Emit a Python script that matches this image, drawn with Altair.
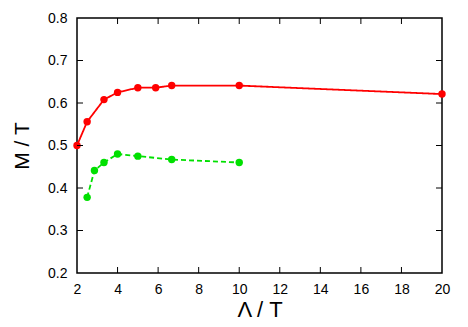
import altair as alt
import pandas as pd

# data
red_x = [2.0, 2.5, 3.33, 4.0, 5.0, 5.88, 6.67, 10.0, 20.0]
red_y = [0.500, 0.556, 0.608, 0.625, 0.636, 0.636, 0.641, 0.641, 0.621]
green_x = [2.5, 2.86, 3.33, 4.0, 5.0, 6.67, 10.0]
green_y = [0.378, 0.441, 0.460, 0.480, 0.475, 0.467, 0.460]
x_ticks = [2, 4, 6, 8, 10, 12, 14, 16, 18, 20]
y_ticks = [0.2, 0.3, 0.4, 0.5, 0.6, 0.7, 0.8]

W, H = 365, 255
FONT = "Liberation Sans"

df = pd.concat([
    pd.DataFrame({"x": red_x, "y": red_y, "s": "red"}),
    pd.DataFrame({"x": green_x, "y": green_y, "s": "green"}),
])
xt = pd.DataFrame({"v": x_ticks[1:-1]})
yt = pd.DataFrame({"v": y_ticks[1:-1]})

xs = alt.Scale(domain=[2, 20], nice=False, zero=False)
ys = alt.Scale(domain=[0.2, 0.8], nice=False, zero=False)
cs = alt.Scale(domain=["red", "green"], range=["#ff0000", "#00e000"])
ds = alt.Scale(domain=["red", "green"], range=[[1, 0], [5, 3]])

xaxis = alt.Axis(values=x_ticks, tickSize=0, domain=False, grid=False,
                 labelFontSize=14, labelFont=FONT, labelColor="black",
                 labelFlush=False, labelOverlap=False,
                 labelPadding=9, title="Λ / T", titleFont=FONT,
                 titleFontSize=22, titleFontWeight="normal",
                 titleColor="black", titlePadding=3)
yaxis = alt.Axis(values=y_ticks, format=".1f", tickSize=0, domain=False,
                 grid=False, labelFontSize=14, labelFont=FONT,
                 labelFlush=False, labelOverlap=False,
                 labelColor="black", labelPadding=10, title="M / T",
                 titleFont=FONT, titleFontSize=21, titleFontWeight="normal",
                 titleColor="black", titlePadding=15)

base = alt.Chart(df).encode(
    x=alt.X("x:Q", scale=xs, axis=xaxis),
    y=alt.Y("y:Q", scale=ys, axis=yaxis),
    color=alt.Color("s:N", scale=cs, legend=None),
)
lines = base.mark_line(strokeWidth=1.8).encode(
    strokeDash=alt.StrokeDash("s:N", scale=ds, legend=None))
points = base.mark_circle(size=55, opacity=1)

tick_style = dict(color="black", strokeWidth=1)
xb = alt.Chart(xt).mark_rule(**tick_style).encode(
    x=alt.X("v:Q", scale=xs), y=alt.value(H), y2=alt.value(H - 6))
xtop = alt.Chart(xt).mark_rule(**tick_style).encode(
    x=alt.X("v:Q", scale=xs), y=alt.value(0), y2=alt.value(6))
yl = alt.Chart(yt).mark_rule(**tick_style).encode(
    y=alt.Y("v:Q", scale=ys), x=alt.value(0), x2=alt.value(6))
yr = alt.Chart(yt).mark_rule(**tick_style).encode(
    y=alt.Y("v:Q", scale=ys), x=alt.value(W), x2=alt.value(W - 6))

chart = alt.layer(lines, points, xb, xtop, yl, yr).properties(
    width=W, height=H,
    autosize=alt.AutoSizeParams(type="none"),
    padding={"left": 69, "top": 10, "right": 18, "bottom": 50},
).configure(background="white").configure_view(stroke="black", strokeWidth=1.5)

chart.save("out.html", embed_options={"renderer": "svg", "actions": False})
